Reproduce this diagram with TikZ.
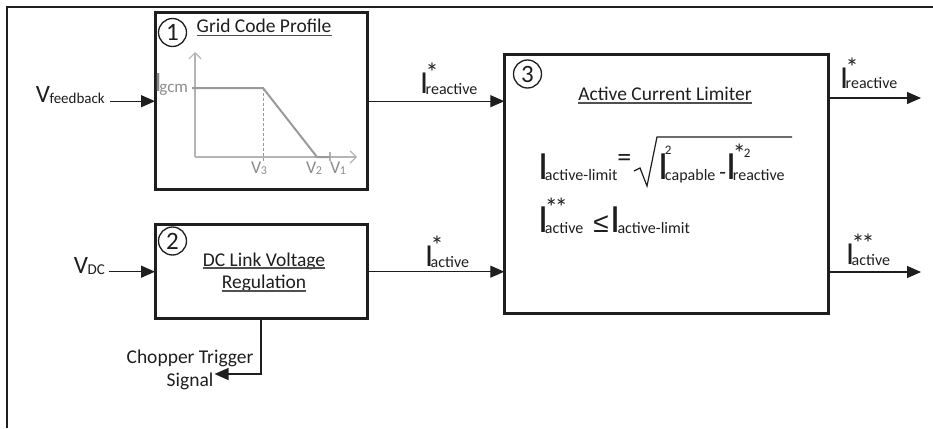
\documentclass[tikz,border=0pt]{standalone}
\usepackage{fontspec}
\setmainfont{Carlito}
\newfontfamily\symfont{Liberation Sans}
\usetikzlibrary{arrows.meta,calc}
\definecolor{ink}{HTML}{1E1E1E}
\definecolor{gline}{HTML}{9A9A9A}
\definecolor{gaxis}{HTML}{B4B4B4}
\definecolor{gtext}{HTML}{8C8C8C}
\definecolor{uline}{HTML}{505050}
% #1 I size, #2 kern, #3 sup size, #4 sup raise, #5 sup, #6 sub size, #7 sub
\newcommand\Isym[7]{{\fontsize{#1}{#1}\selectfont I}\kern#2\relax\rlap{\raisebox{#4}{\fontsize{#3}{#3}\selectfont #5}}\raisebox{-1pt}{\fontsize{#6}{#6}\selectfont #7}}
% #1 V size, #2 sub size, #3 sub
\newcommand\Vsym[3]{{\fontsize{#1}{#1}\selectfont V}\kern-0.5pt\raisebox{-1.5pt}{\fontsize{#2}{#2}\selectfont #3}}
\newcommand\startwo{{\fontsize{26}{26}\selectfont *}\kern-2pt\raisebox{5pt}{\fontsize{13}{13}\selectfont 2}}
\newcommand\dstar{*\kern-3pt*}
\begin{document}
\begin{tikzpicture}[x=1pt,y=-1pt,
 frame/.style={draw=ink, line width=2pt},
 blk/.style={draw=ink, line width=3pt, inner sep=0pt, outer sep=0pt},
 num/.style={circle, draw=ink, line width=1.3pt, minimum size=28pt, inner sep=0pt, font=\fontsize{25}{25}\selectfont, text=ink},
 txt/.style={inner sep=0pt, font=\fontsize{19.5}{22}\selectfont, text=ink},
 lbl/.style={inner sep=0pt, text=ink},
 glbl/.style={inner sep=0pt, text=gtext},
 ul/.style={draw=uline, line width=1.2pt},
 arr/.style={draw=ink, line width=1.3pt, -{Triangle[length=14pt,width=12pt]}},
 gax/.style={draw=gaxis, line width=1.2pt, -{Straight Barb[length=6pt,width=12pt]}},
 gtick/.style={draw=gaxis, line width=1.2pt},
 gpro/.style={draw=gline, line width=2pt},
 gdash/.style={draw=gline, line width=1pt, dash pattern=on 3pt off 2pt},
 rad/.style={draw=ink, line width=1.2pt}]
\useasboundingbox (0,0) rectangle (933,428);
% outer frame
\draw[frame] (7,428) -- (7,7) -- (933,7);
% blocks
\node[blk, minimum width=212pt, minimum height=176.5pt] (box1) at (261,101.2) {};
\node[blk, minimum width=212pt, minimum height=94.5pt] (box2) at (261,271.7) {};
\node[blk, minimum width=324pt, minimum height=259.3pt] (box3) at (666.3,183.7) {};
% numbers
\node[num] (n1) at (172.5,32.5) {1};
\node[num] (n2) at (172.5,241) {2};
\node[num] (n3) at (527.5,74) {3};
% titles
\node[txt, anchor=base] (t1) at (264,33) {Grid Code Profile};
\draw[ul] ([yshift=-2.5pt]t1.base west) -- ([yshift=-2.5pt]t1.base east);
\node[txt, anchor=base] (t2a) at (264,266) {DC Link Voltage};
\draw[ul] ([yshift=-2pt]t2a.base west) -- ([yshift=-2pt]t2a.base east);
\node[txt, anchor=base] (t2b) at (264,288) {Regulation};
\draw[ul] ([yshift=-3pt]t2b.base west) -- ([yshift=-3pt]t2b.base east);
\node[txt, anchor=base] (t3) at (665,100) {Active Current Limiter};
\draw[ul] ([yshift=-3pt]t3.base west) -- ([yshift=-3pt]t3.base east);
% grid code profile graph
\draw[gax] (195,157) -- (195,52);
\draw[gax] (195,157) -- (357,157);
\draw[gdash] (263,88) -- (263,162);
\draw[gtick] (330,152) -- (330,161);
\draw[gpro] (192,88) -- (263,88) -- (317,157) -- (330,157);
\node[glbl, anchor=base west] (igcm) at (154.5,91) {\Isym{28}{-2.4pt}{12}{0pt}{}{17}{gcm}};
\node[glbl, anchor=base west] (v3) at (251,173) {\Vsym{18}{12}{3}};
\node[glbl, anchor=base west] (v2) at (306,173) {\Vsym{18}{12}{2}};
\node[glbl, anchor=base west] (v1) at (330,173) {\Vsym{18}{12}{1}};
% inputs
\node[lbl, anchor=base east] (vfb) at (105,102) {\Vsym{25}{15}{feedback}};
\draw[arr] ($(vfb.east |- box1.west)+(5,0)$) -- (box1.west);
\node[lbl, anchor=base east] (vdc) at (105,273) {\Vsym{25}{15}{DC}};
\draw[arr] ($(vdc.east |- box2.west)+(4,0)$) -- (box2.west);
% internal connections
\draw[arr] (box1.east) -- (box1.east -| box3.west);
\draw[arr] (box2.east) -- (box2.east -| box3.west);
\node[lbl, anchor=base west] (lr) at (420,93) {\Isym{32}{-2.6pt}{26}{12pt}{*}{16}{reactive}};
\node[lbl, anchor=base west] (la) at (425,266) {\Isym{32}{-2.6pt}{26}{12pt}{*}{16}{active}};
% outputs
\coordinate (o1) at (921,98);
\coordinate (o2) at (921,272);
\draw[arr] (o1 -| box3.east) -- (o1);
\draw[arr] (o2 -| box3.east) -- (o2);
\node[lbl, anchor=base west] (lro) at (840,88) {\Isym{32}{-2.6pt}{26}{12pt}{*}{16}{reactive}};
\node[lbl, anchor=base west] (lao) at (846,264) {\Isym{32}{-2.6pt}{26}{12pt}{\dstar}{16}{active}};
% formula
\node[lbl, anchor=base west] (f1) at (538,179) {\Isym{40}{-3.3pt}{13}{0pt}{}{16}{active-limit}\kern0pt\raisebox{13pt}{\fontsize{28}{28}\selectfont =}};
\draw[rad] (634,171) -- (640,168) -- (647,186) -- (657,137) -- (792,137);
\node[lbl, anchor=base west] (f2) at (658,179) {\Isym{40}{-3.3pt}{13}{25pt}{2}{16}{capable}\kern4pt{\fontsize{22}{22}\selectfont -}\Isym{40}{-3.3pt}{13}{17pt}{\startwo}{16}{reactive}};
\node[lbl, anchor=base west] (f3) at (538,232) {\Isym{40}{-3.3pt}{26}{16pt}{\dstar}{16}{active}\kern10pt{\symfont\fontsize{28}{28}\selectfont ≤}\kern2pt\Isym{40}{-3.3pt}{13}{0pt}{}{16}{active-limit}};
% chopper
\node[txt, anchor=base] (ct) at (190,363) {Chopper Trigger};
\node[txt, anchor=base] (sig) at (190,386) {Signal};
\coordinate (cb) at (261,374);
\draw[arr] (cb |- box2.south) -- (cb) -- ($(sig.east |- cb)+(1,0)$);
\end{tikzpicture}
\end{document}
